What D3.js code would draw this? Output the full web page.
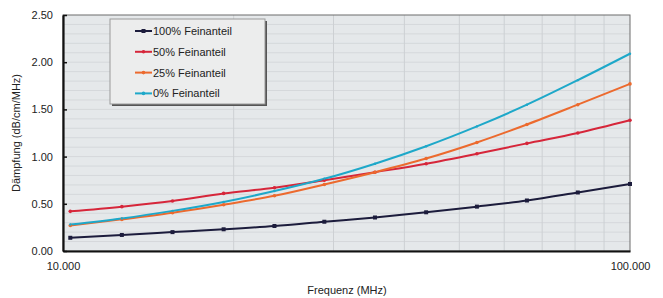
<!DOCTYPE html>
<html>
<head>
<meta charset="utf-8">
<script src="https://cdn.jsdelivr.net/npm/d3@7"></script>
<style>
  body { margin: 0; background: #fff; }
  text { font-family: "Liberation Sans", Arial, sans-serif; fill: #222; }
</style>
</head>
<body>
<script>
// frequencies (MHz)
const freq = [10.3, 12.7, 15.6, 19.2, 23.6, 28.9, 35.5, 43.7, 53.7, 65.8, 80.9, 100];
const series_names = ["100% Feinanteil", "50% Feinanteil", "25% Feinanteil", "0% Feinanteil"];
const fine100 = [0.14, 0.17, 0.20, 0.23, 0.265, 0.31, 0.355, 0.41, 0.47, 0.535, 0.62, 0.71];
const fine50 = [0.42, 0.47, 0.53, 0.61, 0.67, 0.75, 0.835, 0.925, 1.03, 1.14, 1.25, 1.385];
const fine25 = [0.27, 0.335, 0.405, 0.49, 0.585, 0.705, 0.835, 0.98, 1.15, 1.34, 1.55, 1.77];
const fine0 = [0.28, 0.345, 0.425, 0.52, 0.635, 0.765, 0.925, 1.11, 1.32, 1.55, 1.81, 2.09];
const y_ticks = [0, 0.5, 1.0, 1.5, 2.0, 2.5];
const x_ticks = [10, 100];

const colors = ["#1c1c3c", "#d6263a", "#ec6a2e", "#1ea8c9"];
const all_series = [fine100, fine50, fine25, fine0];

const margin = {top: 15, right: 33, bottom: 47, left: 63};
const W = 663, H = 298;
const width = W - margin.left - margin.right;
const height = H - margin.top - margin.bottom;

let svg = d3.select("body").append("svg")
        .attr("width", W)
        .attr("height", H);

let g = svg.append("g")
        .attr("transform", "translate(" + margin.left + "," + margin.top + ")");

let x = d3.scaleLog().domain([10, 100]).range([0, width]);
let y = d3.scaleLinear().domain([0, 2.5]).range([height, 0]);

// plot background
g.append("rect")
  .attr("width", width).attr("height", height)
  .attr("fill", "#e5e8ea");

// horizontal minor gridlines every 0.1
g.selectAll(".hgrid")
  .data(d3.range(1, 25).map(d => d / 10))
  .enter().append("line")
  .attr("x1", 0).attr("x2", width)
  .attr("y1", d => y(d)).attr("y2", d => y(d))
  .attr("stroke", "#d5d8db").attr("stroke-width", 1);

// vertical log gridlines
g.selectAll(".vgrid")
  .data(d3.range(2, 10).map(d => d * 10))
  .enter().append("line")
  .attr("x1", d => x(d)).attr("x2", d => x(d))
  .attr("y1", 0).attr("y2", height)
  .attr("stroke", "#cdd0d3").attr("stroke-width", 1);

// top/right border
g.append("rect")
  .attr("width", width).attr("height", height)
  .attr("fill", "none").attr("stroke", "#6d6d6d").attr("stroke-width", 1);

// axes
let y_axis = d3.axisLeft(y).tickValues(y_ticks).tickFormat(d3.format(".2f")).tickSizeInner(-4).tickSizeOuter(0).tickPadding(10);
let x_axis = d3.axisBottom(x).tickValues(x_ticks).tickFormat(d3.format(".3f")).tickSize(0).tickPadding(11);

let ya = g.append("g").call(y_axis);
let xa = g.append("g").attr("transform", "translate(0," + height + ")").call(x_axis);
[ya, xa].forEach(a => {
  a.select(".domain").attr("stroke", "#111").attr("stroke-width", 2.2);
  a.selectAll(".tick line").attr("stroke", "#111").attr("stroke-width", 1.5);
  a.selectAll("text").style("font-size", "11px").attr("fill", "#222");
});

// lines
let line = d3.line()
  .x((d, i) => x(freq[i]))
  .y(d => y(d))
  .curve(d3.curveMonotoneX);

all_series.forEach((s, k) => {
  g.append("path")
    .datum(s)
    .attr("fill", "none")
    .attr("stroke", colors[k])
    .attr("stroke-width", 2)
    .attr("d", line);
});
all_series.forEach((s, k) => {
  if (k == 0) {
    g.selectAll(".m" + k).data(s).enter().append("rect")
      .attr("x", (d, i) => x(freq[i]) - 2).attr("y", d => y(d) - 2)
      .attr("width", 4).attr("height", 4)
      .attr("fill", colors[k]);
  } else {
    g.selectAll(".m" + k).data(s).enter().append("circle")
      .attr("cx", (d, i) => x(freq[i])).attr("cy", d => y(d))
      .attr("r", k == 3 ? 1.2 : 1.8)
      .attr("fill", colors[k]);
  }
});

// legend
let lg = svg.append("g").attr("transform", "translate(110,19)");
lg.append("rect").attr("x", 2).attr("y", 2).attr("width", 155).attr("height", 85).attr("fill", "#555");
lg.append("rect").attr("width", 155).attr("height", 85).attr("fill", "#eceded").attr("stroke", "#9a9a9a");
series_names.forEach((name, k) => {
  let yy = 12 + k * 20.8;
  lg.append("line").attr("x1", 25).attr("x2", 42).attr("y1", yy).attr("y2", yy)
    .attr("stroke", colors[k]).attr("stroke-width", 2);
  if (k == 0) {
    lg.append("rect").attr("x", 31.5).attr("y", yy - 2).attr("width", 4).attr("height", 4).attr("fill", colors[k]);
  } else {
    lg.append("circle").attr("cx", 33.5).attr("cy", yy).attr("r", 1.8).attr("fill", colors[k]);
  }
  lg.append("text").attr("x", 43).attr("y", yy + 4)
    .style("font-size", "11px").text(name);
});

// axis titles
svg.append("text")
  .attr("transform", "translate(20," + (margin.top + height / 2) + ") rotate(-90)")
  .attr("text-anchor", "middle")
  .style("font-size", "11px")
  .text("Dämpfung (dB/cm/MHz)");

svg.append("text")
  .attr("x", 347).attr("y", 294)
  .attr("text-anchor", "middle")
  .style("font-size", "11px")
  .text("Frequenz (MHz)");
</script>
</body>
</html>
